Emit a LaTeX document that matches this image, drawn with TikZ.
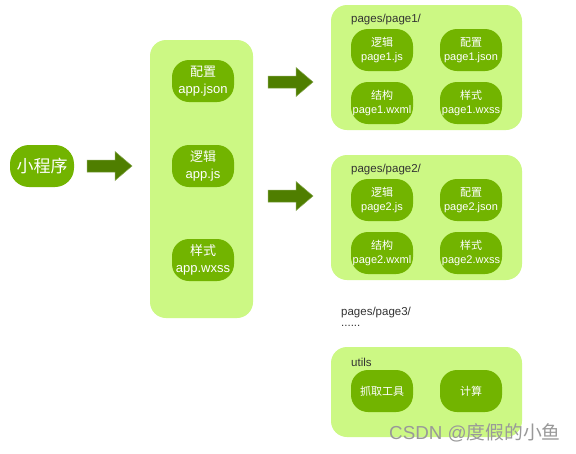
\documentclass[tikz,border=0pt]{standalone}
\usepackage{fontspec}
\setmainfont{Liberation Sans}
\newfontfamily\cjk{Noto Sans CJK SC}
\definecolor{boxgreen}{HTML}{CCF884}
\definecolor{pillgreen}{HTML}{72B400}
\definecolor{arrowgreen}{HTML}{4F7E00}
\definecolor{labelgray}{HTML}{333333}
\begin{document}
\begin{tikzpicture}[x=1pt,y=-1pt,
  group/.style={fill=boxgreen, rounded corners=16pt},
  pill/.style={fill=pillgreen, rounded corners=17pt, text=white, align=center,
    minimum width=62pt, minimum height=42pt, inner sep=1pt, font=\fontsize{11}{14}\selectfont},
  apppill/.style={pill, font=\fontsize{13}{16.5}\selectfont},
  grouplabel/.style={anchor=west, text=labelgray, inner sep=0pt, font=\fontsize{11.5}{13}\selectfont},
  barrow/.pic={\fill[arrowgreen, draw=arrowgreen!70!white, line width=0.5pt]
     (-22.5,-6) -- (5.5,-6) -- (5.5,-14.5) -- (22.5,0) -- (5.5,14.5) -- (5.5,6) -- (-22.5,6) -- cycle;}
]
\useasboundingbox (0,0) rectangle (576,453);
\fill[white] (0,0) rectangle (576,453);

% main node
\node[pill, minimum width=64pt, minimum height=42pt, rounded corners=19pt, font=\fontsize{17}{19}\selectfont\cjk] (mp) at (42,166) {小程序};

% app box
\fill[group] (150,40) rectangle (253,318);
\node[apppill] (appjson) at (203,81) {{\cjk 配置}\\app.json};
\node[apppill] (appjs) at (203,166) {{\cjk 逻辑}\\app.js};
\node[apppill] (appwxss) at (203,260) {{\cjk 样式}\\app.wxss};

% page1 box
\fill[group] (331,5) rectangle (522,130);
\node[grouplabel] (p1lab) at (351,20) {pages/page1/};
\node[pill] (p1js) at (382,50) {{\cjk 逻辑}\\page1.js};
\node[pill] (p1json) at (471,50) {{\cjk 配置}\\page1.json};
\node[pill] (p1wxml) at (382,103) {{\cjk 结构}\\page1.wxml};
\node[pill] (p1wxss) at (471,103) {{\cjk 样式}\\page1.wxss};

% page2 box
\fill[group] (331,155) rectangle (522,280);
\node[grouplabel] (p2lab) at (351,170) {pages/page2/};
\node[pill] (p2js) at (382,200) {{\cjk 逻辑}\\page2.js};
\node[pill] (p2json) at (471,200) {{\cjk 配置}\\page2.json};
\node[pill] (p2wxml) at (382,253) {{\cjk 结构}\\page2.wxml};
\node[pill] (p2wxss) at (471,253) {{\cjk 样式}\\page2.wxss};

% page3
\node[grouplabel] (p3lab) at (341,313) {pages/page3/};
\node[grouplabel] (dots) at (341,326) {......};

% utils box
\fill[group] (331,347) rectangle (522,437);
\node[grouplabel] (ulab) at (351,362) {utils};
\node[pill, font=\fontsize{11}{13}\selectfont\cjk] (grab) at (382,391) {抓取工具};
\node[pill, font=\fontsize{11}{13}\selectfont\cjk] (calc) at (471,391) {计算};

% arrows
\pic at (109.5,166) {barrow};
\pic at (290.5,82) {barrow};
\pic at (290.5,196) {barrow};

% watermark
\node[anchor=west, text=gray!80, inner sep=0pt, font=\fontsize{18.8}{20}\selectfont] (wm) at (389,433) {CSDN @{\cjk 度假的小鱼}};
\end{tikzpicture}
\end{document}
